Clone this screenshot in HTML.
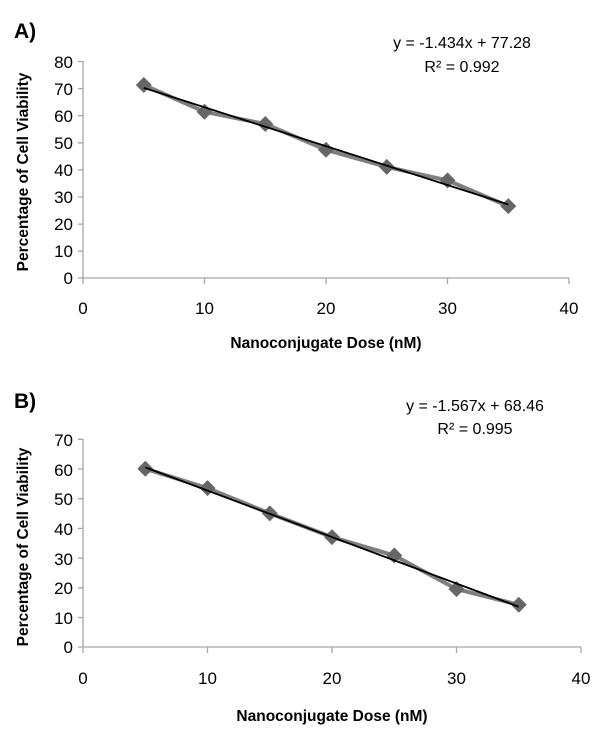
<!DOCTYPE html>
<html><head><meta charset="utf-8"><style>
body{margin:0;background:#fff}
svg{display:block;font-family:"Liberation Sans",Arial,sans-serif}
</style></head><body>
<svg width="600" height="740" viewBox="0 0 600 740">
<!-- Chart A -->
<text x="14" y="38" font-size="21" font-weight="bold">A)</text>
<g stroke="#a6a6a6" stroke-width="1.3" fill="none">
<line x1="83" y1="61" x2="83" y2="278"/>
<line x1="83" y1="278" x2="569" y2="278"/>
<path d="M78 61.5H83M78 88.6H83M78 115.7H83M78 142.8H83M78 169.9H83M78 197H83M78 224.1H83M78 251.2H83M78 278H83"/>
<path d="M83 278V284M204.5 278V284M326 278V284M447.5 278V284M569 278V284"/>
</g>
<g font-size="17" text-anchor="end" fill="#000">
<text x="73" y="68">80</text><text x="73" y="95">70</text><text x="73" y="122">60</text><text x="73" y="149">50</text><text x="73" y="176">40</text><text x="73" y="203">30</text><text x="73" y="230">20</text><text x="73" y="257">10</text><text x="73" y="284">0</text>
</g>
<g font-size="17" text-anchor="middle">
<text x="83" y="314">0</text><text x="204.5" y="314">10</text><text x="326" y="314">20</text><text x="447.5" y="314">30</text><text x="569" y="314">40</text>
</g>
<text x="326" y="348" font-size="15.5" font-weight="bold" text-anchor="middle">Nanoconjugate Dose (nM)</text>
<text transform="translate(28,172) rotate(-90)" font-size="15.5" font-weight="bold" text-anchor="middle">Percentage of Cell Viability</text>
<g font-size="16" text-anchor="middle"><text x="462" y="48">y = -1.434x + 77.28</text><text x="462" y="72">R² = 0.992</text></g>
<polyline fill="none" stroke="#7f7f7f" stroke-width="4" stroke-linejoin="round" points="143.8,85 204.5,111.8 265.3,124 326,149.8 386.8,166.9 447.5,180.4 508.3,206.1"/>
<g fill="#666">
<path d="M143.8,77 l8,8 -8,8 -8,-8z M204.5,103.8 l8,8 -8,8 -8,-8z M265.3,116 l8,8 -8,8 -8,-8z M326,141.8 l8,8 -8,8 -8,-8z M386.8,158.9 l8,8 -8,8 -8,-8z M447.5,172.4 l8,8 -8,8 -8,-8z M508.3,198.1 l8,8 -8,8 -8,-8z"/>
</g>
<line x1="143.8" y1="87.9" x2="508.3" y2="204.5" stroke="#000" stroke-width="1.8"/>

<!-- Chart B -->
<text x="14" y="408" font-size="21" font-weight="bold">B)</text>
<g stroke="#a6a6a6" stroke-width="1.3" fill="none">
<line x1="83" y1="439" x2="83" y2="647"/>
<line x1="83" y1="647" x2="581" y2="647"/>
<path d="M78 439.3H83M78 469H83M78 498.7H83M78 528.4H83M78 558.1H83M78 587.8H83M78 617.5H83M78 647H83"/>
<path d="M83 647V653M207.5 647V653M332 647V653M456.5 647V653M581 647V653"/>
</g>
<g font-size="17" text-anchor="end">
<text x="73" y="446">70</text><text x="73" y="476">60</text><text x="73" y="505">50</text><text x="73" y="535">40</text><text x="73" y="565">30</text><text x="73" y="594">20</text><text x="73" y="624">10</text><text x="73" y="653">0</text>
</g>
<g font-size="17" text-anchor="middle">
<text x="83" y="684">0</text><text x="207.5" y="684">10</text><text x="332" y="684">20</text><text x="456.5" y="684">30</text><text x="581" y="684">40</text>
</g>
<text x="332" y="721" font-size="15.5" font-weight="bold" text-anchor="middle">Nanoconjugate Dose (nM)</text>
<text transform="translate(28,547) rotate(-90)" font-size="15.5" font-weight="bold" text-anchor="middle">Percentage of Cell Viability</text>
<g font-size="16" text-anchor="middle"><text x="475" y="411">y = -1.567x + 68.46</text><text x="475" y="434">R² = 0.995</text></g>
<polyline fill="none" stroke="#7f7f7f" stroke-width="4" stroke-linejoin="round" points="145.3,468.8 207.5,488.1 269.8,513.4 332,537.1 394.3,555.5 456.5,589.1 518.8,604.8"/>
<g fill="#666">
<path d="M145.3,460.8 l8,8 -8,8 -8,-8z M207.5,480.1 l8,8 -8,8 -8,-8z M269.8,505.4 l8,8 -8,8 -8,-8z M332,529.1 l8,8 -8,8 -8,-8z M394.3,547.5 l8,8 -8,8 -8,-8z M456.5,581.1 l8,8 -8,8 -8,-8z M518.8,596.8 l8,8 -8,8 -8,-8z"/>
</g>
<line x1="145.3" y1="467.4" x2="518.8" y2="606.8" stroke="#000" stroke-width="1.8"/>
</svg>
</body></html>
